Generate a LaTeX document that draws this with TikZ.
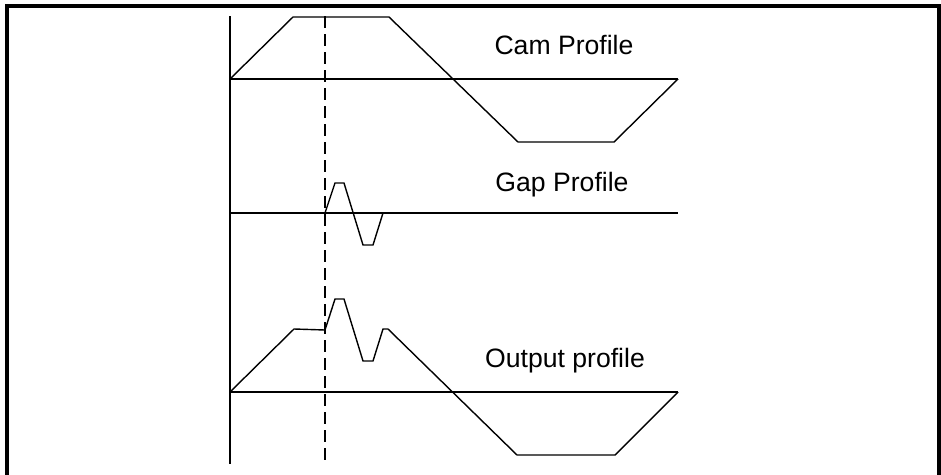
\documentclass[tikz,border=0pt]{standalone}
\usepackage{fontspec}
\setmainfont{Liberation Sans}
\begin{document}
\begin{tikzpicture}[x=1pt,y=-1pt,
  prof/.style={line width=1.4pt,line join=miter},
  axisline/.style={line width=1.4pt},
  dashline/.style={line width=1.4pt,dash pattern=on 12pt off 6pt},
  frame/.style={line width=4pt},
  lbl/.style={font=\fontsize{26.6}{30}\selectfont,inner sep=0pt}]
\useasboundingbox (0,0) rectangle (941,474);
% frame (open at the bottom)
\draw[frame] (7,480) -- (7,6) -- (939,6) -- (939,480);
% axes
\draw[axisline] (230,16) -- (230,464);
\draw[dashline] (325,16) -- (325,463);
% Cam profile
\draw[prof] (230,79) -- (678,79);
\draw[prof] (230,79) -- (293,17) -- (389,17) -- (518,142) -- (614,142) -- (678,79);
\node[lbl] (cam) at (564,45) {Cam Profile};
% Gap profile
\draw[prof] (230,213) -- (678,213);
\draw[prof] (325,213) -- (335,183) -- (344,183) -- (363,245) -- (373,245) -- (383,213);
\node[lbl] (gap) at (562,185) {Gap Profile};
% Output profile
\draw[prof] (230,392) -- (678,392);
\draw[prof] (230,392) -- (294,329) -- (325,330) -- (335,299) -- (344,299) -- (363,361) -- (373,361) -- (383,329) -- (388,329) -- (517,455) -- (615,455) -- (678,392);
\node[lbl] (out) at (565,361) {Output profile};
\end{tikzpicture}
\end{document}
